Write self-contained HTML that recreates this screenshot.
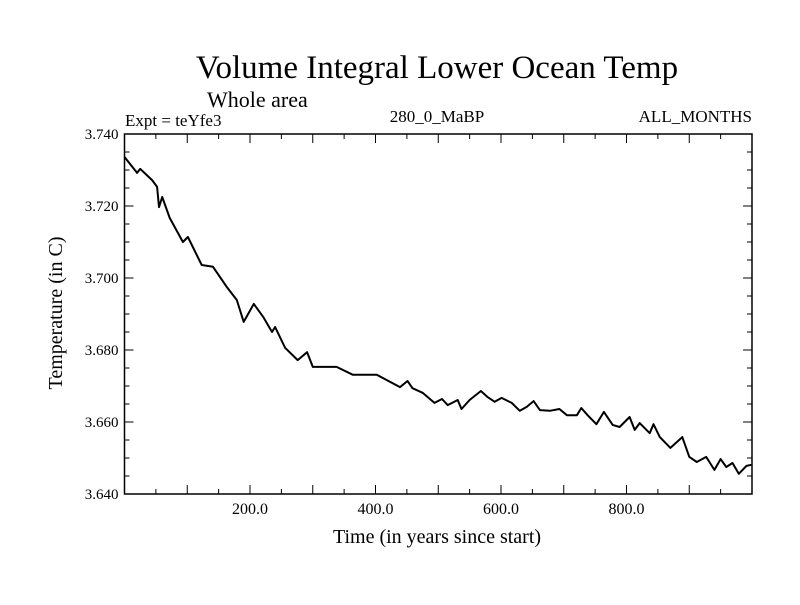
<!DOCTYPE html>
<html><head><meta charset="utf-8"><style>
body{margin:0;background:#fff;}
svg text{font-family:"Liberation Serif",serif;fill:#000;}
</style></head><body>
<svg width="800" height="600" viewBox="0 0 800 600">
<text x="437" y="78" font-size="33" text-anchor="middle">Volume Integral Lower Ocean Temp</text>
<text x="207" y="107" font-size="22">Whole area</text>
<text x="125" y="126" font-size="17">Expt = teYfe3</text>
<text x="437" y="122" font-size="17" text-anchor="middle">280_0_MaBP</text>
<text x="752" y="122" font-size="17" text-anchor="end">ALL_MONTHS</text>
<text x="0" y="0" font-size="20" text-anchor="middle" transform="translate(62,313) rotate(-90)">Temperature (in C)</text>
<text x="437" y="543" font-size="20" text-anchor="middle">Time (in years since start)</text>
<g id="axes"></g>
<path id="line" fill="none" stroke="#000" stroke-width="2" stroke-linejoin="round"/>
</svg>
<script>
const years=[0,20,25,44,52,55,60,72,93,101,123,141,163,179,190,206,221,235,240,256,276,291,300,338,364,402,439,451,459,475,494,506,515,531,537,550,568,579,590,601,617,630,641,652,662,678,693,705,721,728,738,752,764,778,789,805,813,821,837,843,853,870,889,900,912,927,940,950,959,969,979,991,999];
const temps=[3.7336,3.7292,3.7303,3.7272,3.7253,3.7197,3.7225,3.7167,3.7100,3.7114,3.7036,3.7031,3.6975,3.6939,3.6878,3.6928,3.6892,3.6850,3.6864,3.6806,3.6772,3.6794,3.6753,3.6753,3.6731,3.6731,3.6697,3.6714,3.6694,3.6681,3.6653,3.6664,3.6647,3.6661,3.6636,3.6661,3.6686,3.6669,3.6656,3.6667,3.6653,3.6631,3.6642,3.6658,3.6633,3.6631,3.6636,3.6619,3.6619,3.6639,3.6619,3.6594,3.6628,3.6592,3.6586,3.6614,3.6578,3.6597,3.6569,3.6594,3.6558,3.6528,3.6558,3.6503,3.6489,3.6503,3.6467,3.6497,3.6475,3.6486,3.6456,3.6478,3.6481];
const xTickLabels=["200.0","400.0","600.0","800.0"];
const yTickLabels=["3.640","3.660","3.680","3.700","3.720","3.740"];
const L=124.5,R=752,T=134,B=494,X0=0,X1=1000,Y0=3.64,Y1=3.74;
const sx=v=>L+(v-X0)/(X1-X0)*(R-L);
const sy=v=>B-(v-Y0)/(Y1-Y0)*(B-T);
const ns="http://www.w3.org/2000/svg";
const ax=document.getElementById('axes');
function mk(tag,attrs){const e=document.createElementNS(ns,tag);for(const k in attrs)e.setAttribute(k,attrs[k]);ax.appendChild(e);return e;}
const frame=mk('rect',{x:L,y:T,width:R-L,height:B-T,fill:'none',stroke:'#000','stroke-width':1.5});


for(let v=50;v<1000;v+=50){const major=v%100===0;const len=major?9:5;const x=sx(v);
const t1=mk('line',{x1:x,y1:B,x2:x,y2:B-len,stroke:'#000','stroke-width':1});


const t2=mk('line',{x1:x,y1:T,x2:x,y2:T+len,stroke:'#000','stroke-width':1});

}
xTickLabels.forEach(s=>{const t=mk('text',{x:sx(parseFloat(s)),y:B+20,'font-size':16,'text-anchor':'middle'});t.textContent=s;

});
for(let i=0;i<=20;i++){const v=Y0+i*0.005;const major=i%4===0;const len=major?9:5;const y=sy(v);
const t1=mk('line',{x1:L,y1:y,x2:L+len,y2:y,stroke:'#000','stroke-width':1});


const t2=mk('line',{x1:R,y1:y,x2:R-len,y2:y,stroke:'#000','stroke-width':1});

}
yTickLabels.forEach(s=>{const t=mk('text',{x:L-6,y:sy(parseFloat(s))+5,'font-size':15,'text-anchor':'end'});t.textContent=s;

});
let d='';years.forEach((yr,i)=>{d+=(i?'L':'M')+sx(yr).toFixed(1)+','+sy(temps[i]).toFixed(1);});
document.getElementById('line').setAttribute('d',d);
</script>
</body></html>
